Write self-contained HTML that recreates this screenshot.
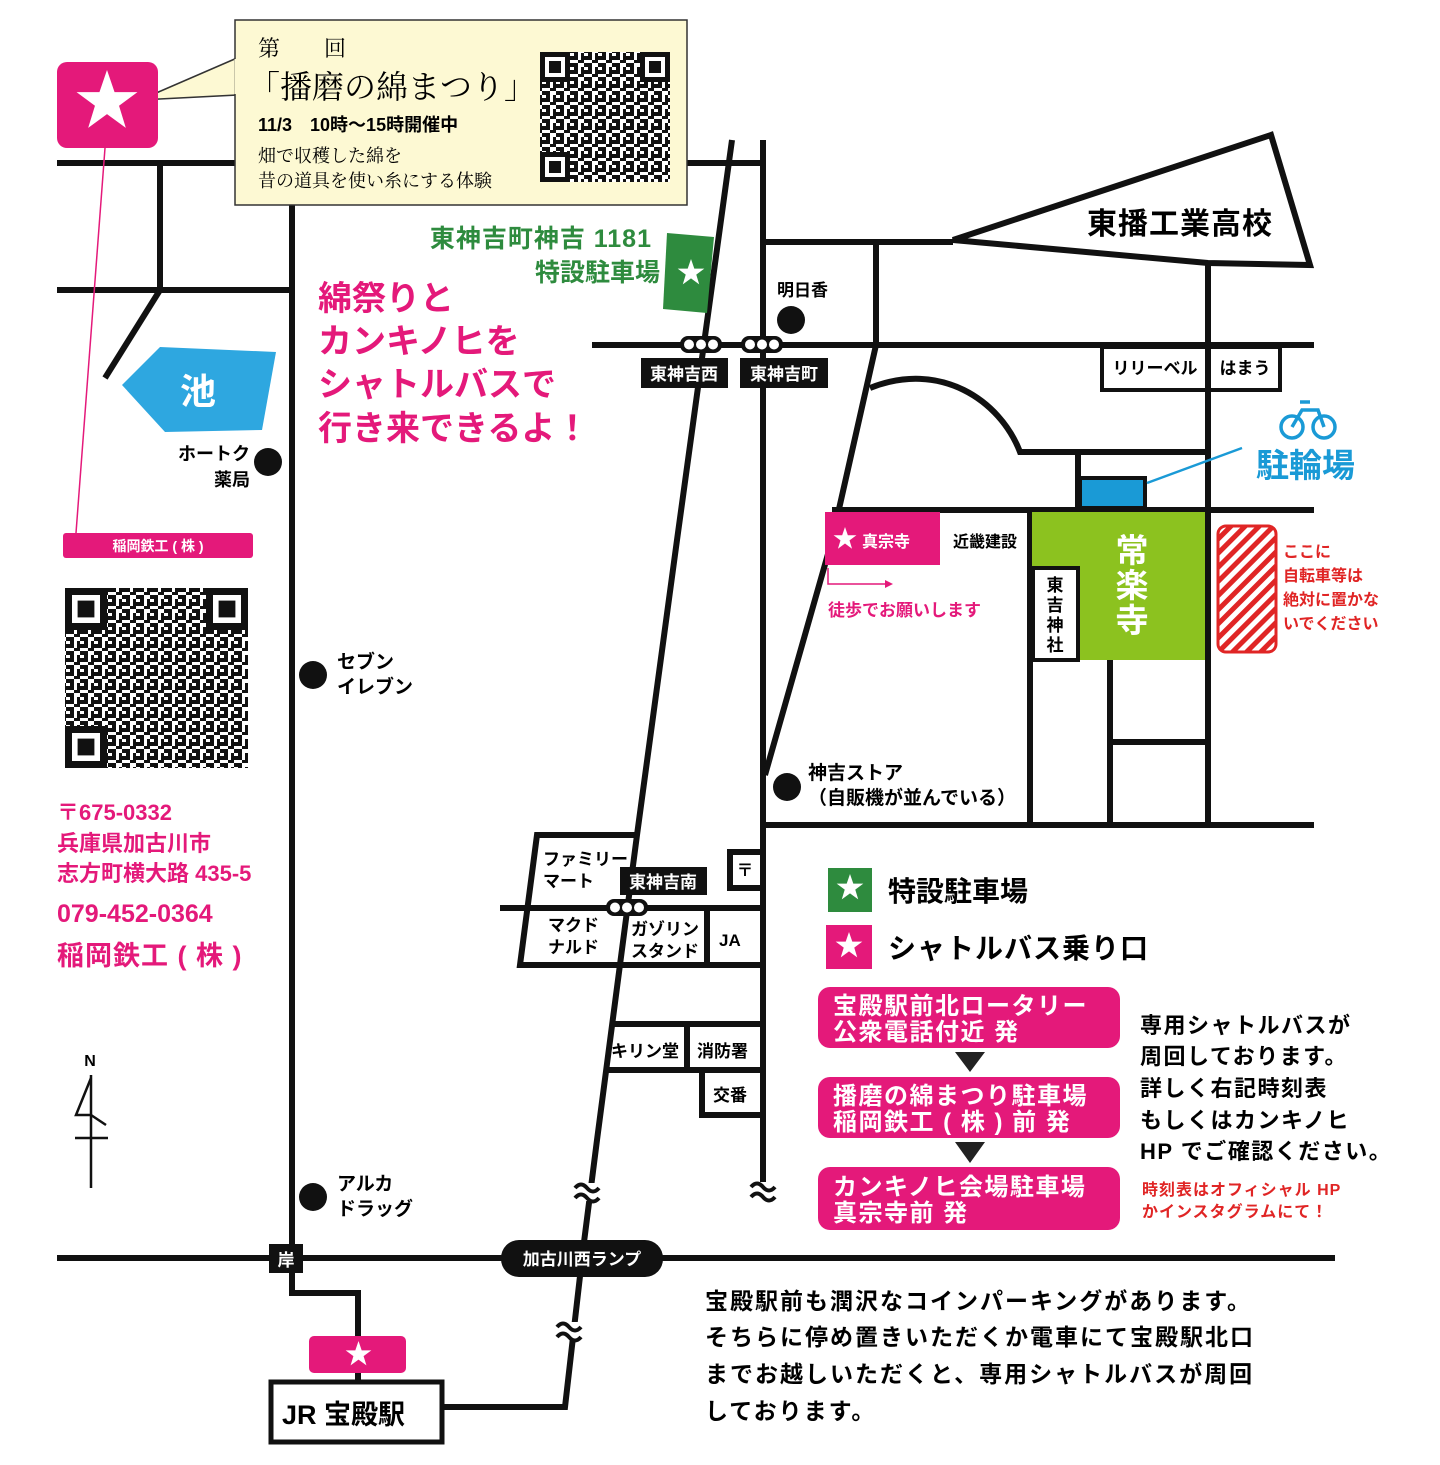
<!DOCTYPE html>
<html><head><meta charset="utf-8"><style>
html,body{margin:0;padding:0;background:#fff}
svg{display:block}
text{font-family:"Liberation Sans","Noto Sans CJK JP",sans-serif;font-weight:bold}
.s{font-family:"Liberation Serif","Noto Serif CJK SC",serif;font-weight:normal}
</style></head><body>
<svg width="1440" height="1465" viewBox="0 0 1440 1465" xmlns="http://www.w3.org/2000/svg">
<defs>
<symbol id="star" viewBox="0 0 100 100"><polygon fill="#fff" points="50,0 61.8,34.5 97.6,34.5 68.8,55.9 79.4,90.5 50,69 20.6,90.5 31.2,55.9 2.4,34.5 38.2,34.5"/></symbol>
<pattern id="qr" width="14" height="14" patternUnits="userSpaceOnUse">
<rect width="14" height="14" fill="#fff"/>
<rect x="0" y="0" width="4" height="4" fill="#111"/><rect x="7" y="0" width="7" height="4" fill="#111"/>
<rect x="4" y="4" width="6" height="3" fill="#111"/><rect x="0" y="7" width="4" height="7" fill="#111"/>
<rect x="10" y="7" width="4" height="4" fill="#111"/><rect x="7" y="11" width="3" height="3" fill="#111"/>
</pattern>
<pattern id="hatch" width="10" height="10" patternUnits="userSpaceOnUse" patternTransform="rotate(45)">
<rect width="10" height="10" fill="#fff"/><rect width="5" height="10" fill="#e02525"/></pattern>
<g id="fp"><rect x="0" y="0" width="30" height="30" fill="#111"/><rect x="5" y="5" width="20" height="20" fill="#fff"/><rect x="9" y="9" width="12" height="12" fill="#111"/></g>
</defs>

<g stroke="#111" stroke-width="6" fill="none" stroke-linejoin="miter">
<line x1="57" y1="163" x2="763" y2="163"/>
<line x1="160" y1="163" x2="160" y2="290"/>
<line x1="57" y1="290" x2="292" y2="290"/>
<line x1="160" y1="290" x2="105" y2="378"/>
<polyline points="292,163 292,1293 358,1293 358,1337"/>
<line x1="358" y1="1373" x2="358" y2="1380"/>
<line x1="57" y1="1258" x2="1335" y2="1258"/>
<polyline points="732,140 677,540 637,835 597,1140 583,1250 565,1407 444,1407"/>
<line x1="763" y1="140" x2="763" y2="1195"/>
<line x1="763" y1="242" x2="953" y2="242"/>
<polygon points="953,240 1271,135 1310,265 1208,263"/>
<line x1="876" y1="242" x2="876" y2="345"/>
<line x1="1208" y1="263" x2="1208" y2="825"/>
<line x1="592" y1="345" x2="1314" y2="345"/>
<polyline points="876,345 832,540 765,775"/>
<path d="M870,388 C940,360 1000,400 1020,452 L1208,452"/>
<line x1="1078" y1="452" x2="1078" y2="510"/>
<line x1="832" y1="510" x2="1314" y2="510"/>
<line x1="763" y1="825" x2="1314" y2="825"/>
<line x1="1030" y1="512" x2="1030" y2="825"/>
<line x1="1110" y1="660" x2="1110" y2="825"/>
<line x1="1110" y1="742" x2="1208" y2="742"/>
<polyline points="637,835 537,835 520,965 763,965"/>
<line x1="500" y1="908" x2="763" y2="908"/>
<line x1="707" y1="908" x2="707" y2="965"/>
<polyline points="763,852 730,852 730,888 763,888"/>
<line x1="613" y1="1024" x2="763" y2="1024"/>
<line x1="605" y1="1070" x2="763" y2="1070"/>
<line x1="687" y1="1024" x2="687" y2="1070"/>
<polyline points="702,1070 702,1115 763,1115"/>
</g>

<g stroke="#111" stroke-width="4" fill="none">
<rect x="575" y="1183" width="24" height="18" fill="#fff" stroke="none"/>
<path d="M575,1188 q6,-7 12,0 t12,0 M575,1198 q6,-7 12,0 t12,0"/>
<rect x="557" y="1322" width="24" height="18" fill="#fff" stroke="none"/>
<path d="M557,1327 q6,-7 12,0 t12,0 M557,1337 q6,-7 12,0 t12,0"/>
<rect x="750" y="1182" width="26" height="18" fill="#fff" stroke="none"/>
<path d="M751,1187 q6,-7 12,0 t12,0 M751,1197 q6,-7 12,0 t12,0"/>
</g>

<polygon points="237,58 140,100 237,95" fill="#fdf9d3" stroke="#333" stroke-width="1.5"/>
<rect x="235" y="20" width="452" height="185" fill="#fdf9d3" stroke="#333" stroke-width="1.5"/>
<line x1="236" y1="59" x2="236" y2="94" stroke="#fdf9d3" stroke-width="3"/>
<text class="s" x="258" y="56" font-size="22">第　　回</text>
<text class="s" x="248" y="98" font-size="32">「播磨の綿まつり」</text>
<text x="258" y="131" font-size="18">11/3　10時〜15時開催中</text>
<text class="s" x="258" y="162" font-size="18">畑で収穫した綿を</text>
<text class="s" x="258" y="187" font-size="18">昔の道具を使い糸にする体験</text>
<rect x="540" y="52" width="130" height="130" fill="url(#qr)"/>
<use href="#fp" x="540" y="52"/><use href="#fp" x="640" y="52"/><use href="#fp" x="540" y="152"/>

<rect x="57" y="62" width="101" height="86" rx="10" fill="#e4197a"/>
<use href="#star" x="75" y="70" width="64" height="64"/>
<polyline points="105,148 76,533" stroke="#e4197a" stroke-width="1.5" fill="none"/>
<rect x="63" y="533" width="190" height="25" rx="3" fill="#e4197a"/>
<text x="158" y="551" font-size="14" fill="#fff" text-anchor="middle">稲岡鉄工 ( 株 )</text>

<polygon points="122,385 160,347 276,352 262,430 165,432" fill="#2ea7e0"/>
<text x="198" y="404" font-size="36" fill="#fff" text-anchor="middle">池</text>

<text x="250" y="460" font-size="18" text-anchor="end">ホートク</text>
<text x="250" y="486" font-size="18" text-anchor="end">薬局</text>
<circle cx="268" cy="462" r="14" fill="#111"/>

<rect x="65" y="588" width="183" height="180" fill="url(#qr)"/>
<g transform="translate(65,588) scale(1.4)"><use href="#fp"/></g>
<g transform="translate(206,588) scale(1.4)"><use href="#fp"/></g>
<g transform="translate(65,726) scale(1.4)"><use href="#fp"/></g>

<g fill="#e4197a">
<text x="57" y="820" font-size="22">〒675-0332</text>
<text x="57" y="851" font-size="22">兵庫県加古川市</text>
<text x="57" y="881" font-size="22">志方町横大路 435-5</text>
<text x="57" y="922" font-size="25">079-452-0364</text>
<text x="57" y="965" font-size="27" letter-spacing="1">稲岡鉄工 ( 株 )</text>
</g>

<circle cx="313" cy="675" r="14" fill="#111"/>
<text x="337" y="668" font-size="19">セブン</text>
<text x="337" y="693" font-size="19">イレブン</text>
<circle cx="313" cy="1197" r="14" fill="#111"/>
<text x="337" y="1190" font-size="19">アルカ</text>
<text x="337" y="1215" font-size="19">ドラッグ</text>

<text x="90" y="1066" font-size="16" text-anchor="middle">N</text>
<g stroke="#111" stroke-width="2.5" fill="none">
<line x1="91" y1="1075" x2="91" y2="1188"/>
<polyline points="91,1078 76,1115 91,1115"/>
<line x1="75" y1="1138" x2="108" y2="1138"/>
<polyline points="91,1115 106,1125"/>
</g>

<g fill="#e4197a" font-size="34">
<text x="318" y="310">綿祭りと</text>
<text x="318" y="353">カンキノヒを</text>
<text x="318" y="396">シャトルバスで</text>
<text x="318" y="440">行き来できるよ！</text>
</g>

<text x="652" y="247" font-size="25" fill="#2e8b3e" text-anchor="end" letter-spacing="1">東神吉町神吉 1181</text>
<text x="660" y="281" font-size="25" fill="#2e8b3e" text-anchor="end">特設駐車場</text>
<polygon points="667,233 714,237 707,313 663,309" fill="#2e8b3e"/>
<use href="#star" x="677" y="259" width="28" height="28"/>

<circle cx="791" cy="320" r="14" fill="#111"/>
<text x="777" y="296" font-size="17">明日香</text>

<g>
<rect x="680" y="336" width="42" height="17" rx="8" fill="#111"/>
<circle cx="689" cy="344.5" r="5" fill="#fff"/><circle cx="701" cy="344.5" r="5" fill="#fff"/><circle cx="713" cy="344.5" r="5" fill="#fff"/>
<rect x="741" y="336" width="42" height="17" rx="8" fill="#111"/>
<circle cx="750" cy="344.5" r="5" fill="#fff"/><circle cx="762" cy="344.5" r="5" fill="#fff"/><circle cx="774" cy="344.5" r="5" fill="#fff"/>
<rect x="606" y="899" width="42" height="17" rx="8" fill="#111"/>
<circle cx="615" cy="907.5" r="5" fill="#fff"/><circle cx="627" cy="907.5" r="5" fill="#fff"/><circle cx="639" cy="907.5" r="5" fill="#fff"/>
</g>
<rect x="641" y="358" width="87" height="30" fill="#111"/>
<text x="684" y="380" font-size="17" fill="#fff" text-anchor="middle">東神吉西</text>
<rect x="740" y="358" width="88" height="30" fill="#111"/>
<text x="784" y="380" font-size="17" fill="#fff" text-anchor="middle">東神吉町</text>
<rect x="620" y="867" width="87" height="28" fill="#111"/>
<text x="663" y="888" font-size="17" fill="#fff" text-anchor="middle">東神吉南</text>

<text x="1180" y="234" font-size="30" text-anchor="middle" letter-spacing="1">東播工業高校</text>
<rect x="1102" y="347" width="178" height="43" fill="none" stroke="#111" stroke-width="4"/>
<text x="1155" y="374" font-size="17" text-anchor="middle">リリーベル</text>
<text x="1245" y="374" font-size="17" text-anchor="middle">はまう</text>

<rect x="1080" y="478" width="65" height="30" fill="#1a9ad6" stroke="#111" stroke-width="4"/>
<line x1="1147" y1="483" x2="1242" y2="448" stroke="#1a9ad6" stroke-width="2.5"/>
<g stroke="#1a9ad6" stroke-width="3.5" fill="none">
<circle cx="1292" cy="427" r="11"/><circle cx="1324" cy="427" r="11"/>
<polyline points="1292,427 1302,410 1318,410 1324,427"/><line x1="1300" y1="402" x2="1310" y2="402"/>
</g>
<text x="1256" y="477" font-size="33" fill="#1a9ad6">駐輪場</text>

<rect x="825" y="512" width="115" height="53" fill="#e4197a"/>
<use href="#star" x="833" y="527" width="24" height="24"/>
<text x="862" y="547" font-size="16" fill="#fff">真宗寺</text>
<text x="985" y="547" font-size="16" text-anchor="middle">近畿建設</text>
<rect x="1032" y="512" width="173" height="148" fill="#8cc21f"/>
<rect x="1033" y="568" width="45" height="92" fill="#fff" stroke="#111" stroke-width="4"/>
<g font-size="17" text-anchor="middle"><text x="1055" y="591">東</text><text x="1055" y="611">吉</text><text x="1055" y="631">神</text><text x="1055" y="651">社</text></g>
<g font-size="33" fill="#fff" text-anchor="middle"><text x="1132" y="562">常</text><text x="1132" y="597">楽</text><text x="1132" y="632">寺</text></g>
<rect x="1218" y="526" width="58" height="126" rx="8" fill="url(#hatch)" stroke="#e02525" stroke-width="3"/>
<g fill="#e02525" font-size="16"><text x="1283" y="557">ここに</text><text x="1283" y="581">自転車等は</text><text x="1283" y="605">絶対に置かな</text><text x="1283" y="629">いでください</text></g>
<polyline points="828,568 828,584 885,584" stroke="#e4197a" stroke-width="1.5" fill="none"/>
<polygon points="885,580 893,584 885,588" fill="#e4197a"/>
<text x="828" y="616" font-size="17" fill="#e4197a">徒歩でお願いします</text>

<circle cx="787" cy="787" r="14" fill="#111"/>
<text x="808" y="779" font-size="19">神吉ストア</text>
<text x="808" y="804" font-size="19">（自販機が並んでいる）</text>

<g font-size="17">
<text x="543" y="865">ファミリー</text><text x="543" y="887">マート</text>
<text x="548" y="931">マクド</text><text x="548" y="953">ナルド</text>
<text x="631" y="935">ガゾリン</text><text x="631" y="957">スタンド</text>
<text x="719" y="946">JA</text>
<text x="745" y="876" text-anchor="middle">〒</text>
<text x="611" y="1057">キリン堂</text>
<text x="697" y="1057">消防署</text>
<text x="713" y="1101">交番</text>
</g>

<rect x="828" y="868" width="44" height="44" fill="#2e8b3e"/>
<use href="#star" x="836" y="874" width="28" height="28"/>
<text x="888" y="901" font-size="28">特設駐車場</text>
<rect x="826" y="925" width="46" height="44" fill="#e4197a"/>
<use href="#star" x="835" y="932" width="28" height="28"/>
<text x="888" y="958" font-size="28" letter-spacing="1">シャトルバス乗り口</text>

<g fill="#e4197a">
<rect x="818" y="987" width="302" height="61" rx="12"/>
<rect x="818" y="1077" width="302" height="61" rx="12"/>
<rect x="818" y="1167" width="302" height="63" rx="12"/>
</g>
<polygon points="955,1052 985,1052 970,1072" fill="#222"/>
<polygon points="955,1142 985,1142 970,1163" fill="#222"/>
<g fill="#fff" font-size="24" letter-spacing="1.5">
<text x="833" y="1014">宝殿駅前北ロータリー</text><text x="833" y="1040">公衆電話付近 発</text>
<text x="833" y="1104">播磨の綿まつり駐車場</text><text x="833" y="1130">稲岡鉄工 ( 株 ) 前 発</text>
<text x="833" y="1195">カンキノヒ会場駐車場</text><text x="833" y="1221">真宗寺前 発</text>
</g>
<g font-size="22" letter-spacing="1.5">
<text x="1140" y="1033">専用シャトルバスが</text>
<text x="1140" y="1064">周回しております。</text>
<text x="1140" y="1096">詳しく右記時刻表</text>
<text x="1140" y="1128">もしくはカンキノヒ</text>
<text x="1140" y="1159">HP でご確認ください。</text>
</g>
<g fill="#e02525" font-size="16" letter-spacing="1"><text x="1142" y="1195">時刻表はオフィシャル HP</text><text x="1142" y="1217">かインスタグラムにて！</text></g>

<rect x="269" y="1244" width="34" height="29" fill="#111"/>
<text x="286" y="1266" font-size="17" fill="#fff" text-anchor="middle">岸</text>
<rect x="501" y="1240" width="162" height="37" rx="18" fill="#111"/>
<text x="582" y="1265" font-size="17" fill="#fff" text-anchor="middle">加古川西ランプ</text>
<rect x="309" y="1336" width="97" height="37" rx="5" fill="#e4197a"/>
<use href="#star" x="345" y="1341" width="27" height="27"/>
<rect x="271" y="1382" width="171" height="60" fill="#fff" stroke="#111" stroke-width="5"/>
<text x="282" y="1424" font-size="27">JR 宝殿駅</text>
<g font-size="23" letter-spacing="2">
<text x="705" y="1309">宝殿駅前も潤沢なコインパーキングがあります。</text>
<text x="705" y="1345">そちらに停め置きいただくか電車にて宝殿駅北口</text>
<text x="705" y="1382">までお越しいただくと、専用シャトルバスが周回</text>
<text x="705" y="1419">しております。</text>
</g>
</svg>
</body></html>
